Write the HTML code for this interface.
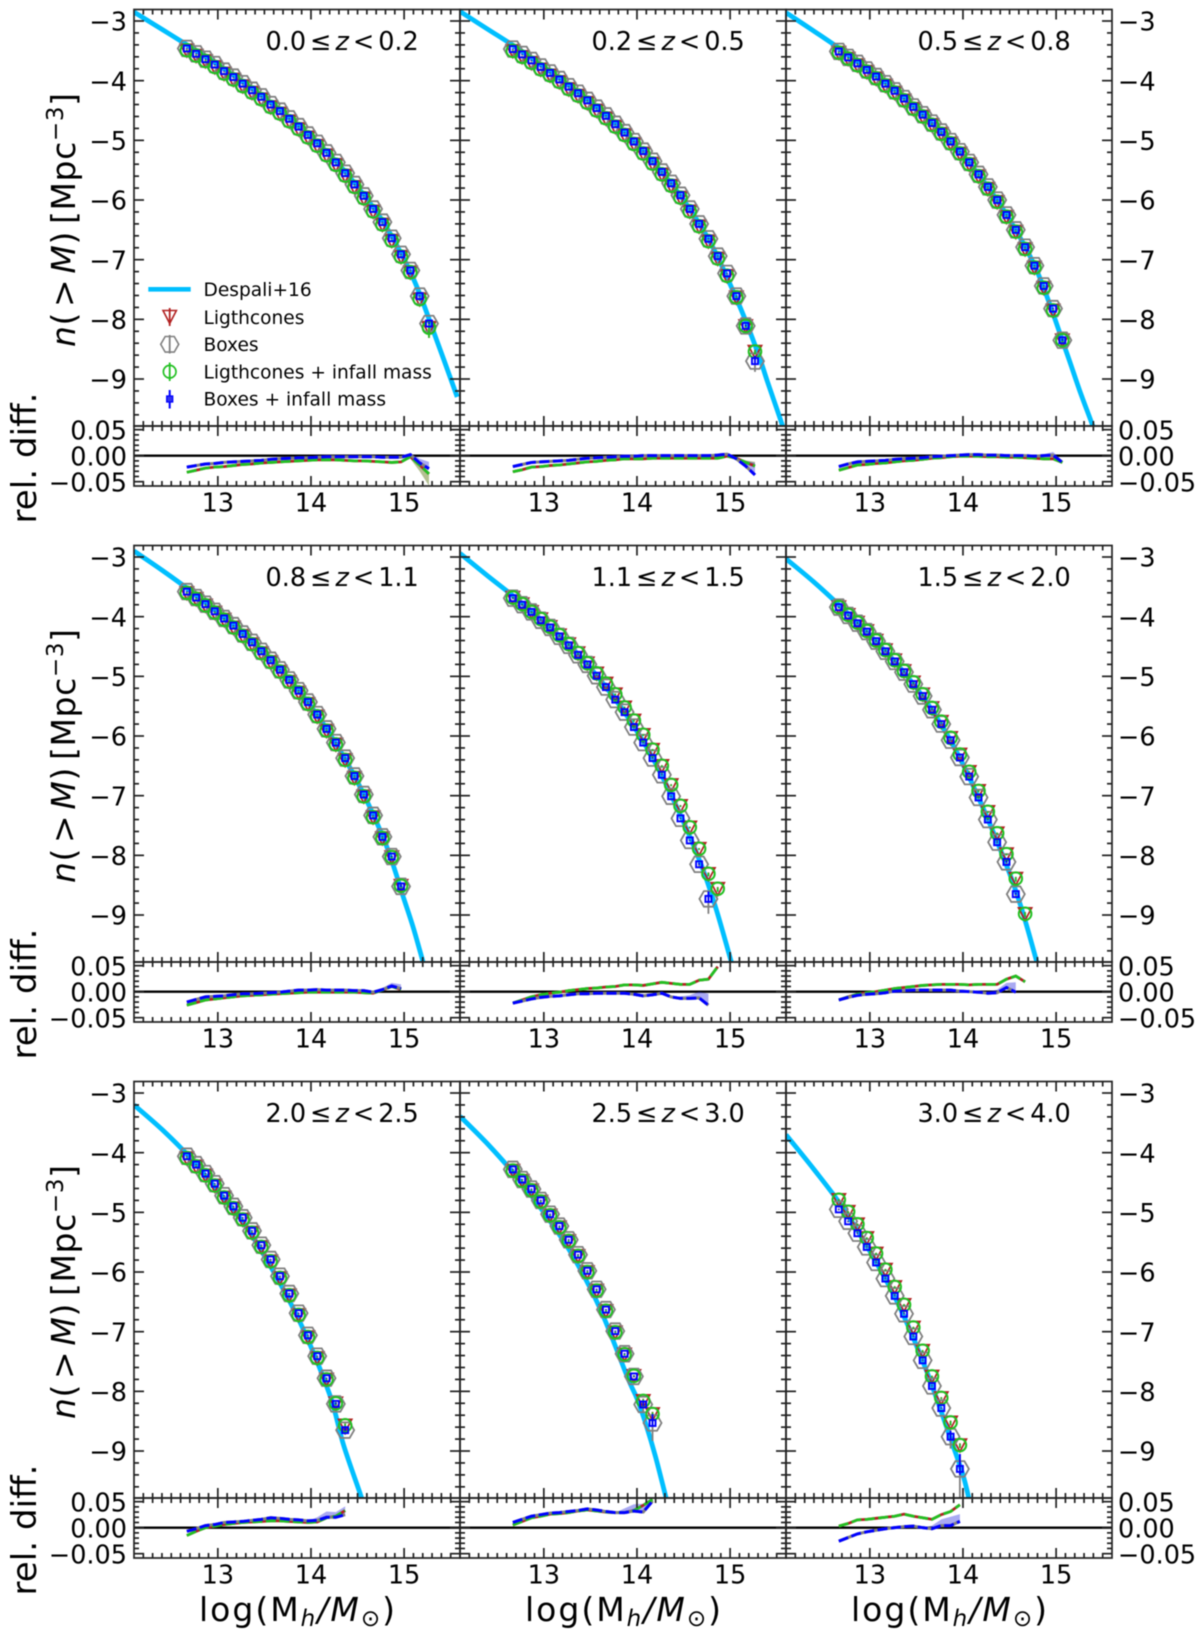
<!DOCTYPE html>
<html lang="en">
<head>
<meta charset="utf-8">
<title>Cumulative halo mass functions</title>
<style>
html,body{margin:0;padding:0;background:#fff;}
svg{display:block;font-family:"DejaVu Sans","Liberation Sans",sans-serif;fill:#000;filter:blur(0.4px);}
</style>
</head>
<body>
<svg id="figure" xmlns="http://www.w3.org/2000/svg" width="1200" height="1635" viewBox="0 0 1200 1635">
<rect x="0" y="0" width="1200" height="1635" fill="#ffffff"/>
<defs id="clips"></defs>
<g id="plot"></g>

<text x="265.5" y="50" font-size="25.5">0.0<tspan dx="4">≤</tspan><tspan dx="4" font-style="italic">z</tspan><tspan dx="4">&lt;</tspan><tspan dx="4">0.2</tspan></text>
<text x="591.5" y="50" font-size="25.5">0.2<tspan dx="4">≤</tspan><tspan dx="4" font-style="italic">z</tspan><tspan dx="4">&lt;</tspan><tspan dx="4">0.5</tspan></text>
<text x="917.5" y="50" font-size="25.5">0.5<tspan dx="4">≤</tspan><tspan dx="4" font-style="italic">z</tspan><tspan dx="4">&lt;</tspan><tspan dx="4">0.8</tspan></text>
<text x="265.5" y="586" font-size="25.5">0.8<tspan dx="4">≤</tspan><tspan dx="4" font-style="italic">z</tspan><tspan dx="4">&lt;</tspan><tspan dx="4">1.1</tspan></text>
<text x="591.5" y="586" font-size="25.5">1.1<tspan dx="4">≤</tspan><tspan dx="4" font-style="italic">z</tspan><tspan dx="4">&lt;</tspan><tspan dx="4">1.5</tspan></text>
<text x="917.5" y="586" font-size="25.5">1.5<tspan dx="4">≤</tspan><tspan dx="4" font-style="italic">z</tspan><tspan dx="4">&lt;</tspan><tspan dx="4">2.0</tspan></text>
<text x="265.5" y="1122" font-size="25.5">2.0<tspan dx="4">≤</tspan><tspan dx="4" font-style="italic">z</tspan><tspan dx="4">&lt;</tspan><tspan dx="4">2.5</tspan></text>
<text x="591.5" y="1122" font-size="25.5">2.5<tspan dx="4">≤</tspan><tspan dx="4" font-style="italic">z</tspan><tspan dx="4">&lt;</tspan><tspan dx="4">3.0</tspan></text>
<text x="917.5" y="1122" font-size="25.5">3.0<tspan dx="4">≤</tspan><tspan dx="4" font-style="italic">z</tspan><tspan dx="4">&lt;</tspan><tspan dx="4">4.0</tspan></text>

<text transform="translate(75,220) rotate(-90)" text-anchor="middle" font-size="33" textLength="254"><tspan font-style="italic">n</tspan>(<tspan dx="5">&gt;</tspan><tspan dx="5" font-style="italic">M</tspan>)<tspan dx="7">[Mpc</tspan><tspan dy="-12" font-size="23">−3</tspan><tspan dy="12">]</tspan></text>
<text transform="translate(75,756) rotate(-90)" text-anchor="middle" font-size="33" textLength="254"><tspan font-style="italic">n</tspan>(<tspan dx="5">&gt;</tspan><tspan dx="5" font-style="italic">M</tspan>)<tspan dx="7">[Mpc</tspan><tspan dy="-12" font-size="23">−3</tspan><tspan dy="12">]</tspan></text>
<text transform="translate(75,1292) rotate(-90)" text-anchor="middle" font-size="33" textLength="254"><tspan font-style="italic">n</tspan>(<tspan dx="5">&gt;</tspan><tspan dx="5" font-style="italic">M</tspan>)<tspan dx="7">[Mpc</tspan><tspan dy="-12" font-size="23">−3</tspan><tspan dy="12">]</tspan></text>

<text transform="translate(36,458) rotate(-90)" text-anchor="middle" font-size="34" textLength="131">rel. diff.</text>
<text transform="translate(36,994) rotate(-90)" text-anchor="middle" font-size="34" textLength="131">rel. diff.</text>
<text transform="translate(36,1530) rotate(-90)" text-anchor="middle" font-size="34" textLength="131">rel. diff.</text>

<text x="297" y="1621" text-anchor="middle" font-size="33" textLength="196">log(M<tspan dy="5" font-size="23" font-style="italic">h</tspan><tspan dy="-5" font-style="italic">/M</tspan><tspan dy="5" font-size="23">⊙</tspan><tspan dy="-5">)</tspan></text>
<text x="623" y="1621" text-anchor="middle" font-size="33" textLength="196">log(M<tspan dy="5" font-size="23" font-style="italic">h</tspan><tspan dy="-5" font-style="italic">/M</tspan><tspan dy="5" font-size="23">⊙</tspan><tspan dy="-5">)</tspan></text>
<text x="949" y="1621" text-anchor="middle" font-size="33" textLength="196">log(M<tspan dy="5" font-size="23" font-style="italic">h</tspan><tspan dy="-5" font-style="italic">/M</tspan><tspan dy="5" font-size="23">⊙</tspan><tspan dy="-5">)</tspan></text>

<g>
  <g>
    <line x1="148.3" y1="289.3" x2="190.7" y2="289.3" stroke="#00bfff" stroke-width="4.6"/>
    <text x="203.5" y="296" font-size="18.6">Despali+16</text>
  </g>
  <g>
    <line x1="169.7" y1="308" x2="169.7" y2="326" stroke="#b22222" stroke-width="1.8"/>
    <polygon points="163,310.5 176.4,310.5 169.7,323.5" fill="none" stroke="#b22222" stroke-width="1.6"/>
    <text x="203.5" y="324" font-size="18.6">Ligthcones</text>
  </g>
  <g>
    <line x1="169.7" y1="335" x2="169.7" y2="353.5" stroke="#808080" stroke-width="1.8"/>
    <polygon points="178.7,344.3 174.2,352.1 165.2,352.1 160.7,344.3 165.2,336.5 174.2,336.5" fill="none" stroke="#808080" stroke-width="1.6"/>
    <text x="203.5" y="351" font-size="18.6">Boxes</text>
  </g>
  <g>
    <line x1="169.7" y1="362.5" x2="169.7" y2="381" stroke="#22c022" stroke-width="1.8"/>
    <circle cx="169.7" cy="371.7" r="6.3" fill="none" stroke="#22c022" stroke-width="1.7"/>
    <text x="203.5" y="378.3" font-size="18.6">Ligthcones + infall mass</text>
  </g>
  <g>
    <line x1="169.7" y1="390" x2="169.7" y2="408.5" stroke="#0000ff" stroke-width="2"/>
    <rect x="166.7" y="396" width="6" height="6" fill="#3333ee" stroke="#0000ff" stroke-width="1.3"/>
    <text x="203.5" y="405.7" font-size="18.6">Boxes + infall mass</text>
  </g>
</g>

<script>
// Bin centres shared by all panels (log10 halo mass)
const massBins = [12.667,12.767,12.867,12.967,13.067,13.167,13.267,13.367,13.467,13.567,13.667,13.767,13.867,13.967,14.067,14.167,14.267,14.367,14.467,14.567,14.667,14.767,14.867,14.967,15.067,15.167,15.267];

// Tick values and labels
const xTickValues = [13,14,15];
const xTickLabels = ['13','14','15'];
const yTickValues = [-3,-4,-5,-6,-7,-8,-9];
const yTickLabels = ['−3','−4','−5','−6','−7','−8','−9'];
const ratioTickValues = [0.05,0,-0.05];
const ratioTickLabels = ['0.05','0.00','−0.05'];

// Boxes: log n(>M)
const boxP1 = [-3.46,-3.55,-3.64,-3.73,-3.84,-3.94,-4.05,-4.16,-4.27,-4.40,-4.51,-4.64,-4.77,-4.91,-5.05,-5.21,-5.37,-5.55,-5.74,-5.93,-6.15,-6.37,-6.64,-6.91,-7.18,-7.61,-8.07];
const boxP2 = [-3.47,-3.56,-3.66,-3.77,-3.87,-3.98,-4.10,-4.21,-4.33,-4.46,-4.59,-4.73,-4.87,-5.02,-5.18,-5.35,-5.53,-5.72,-5.92,-6.15,-6.40,-6.65,-6.94,-7.23,-7.61,-8.11,-8.70];
const boxP3 = [-3.51,-3.61,-3.71,-3.82,-3.93,-4.05,-4.17,-4.30,-4.44,-4.57,-4.71,-4.86,-5.02,-5.19,-5.37,-5.57,-5.78,-6.00,-6.25,-6.50,-6.79,-7.10,-7.44,-7.82,-8.35];
const boxP4 = [-3.58,-3.68,-3.79,-3.91,-4.03,-4.15,-4.29,-4.43,-4.58,-4.73,-4.89,-5.06,-5.24,-5.43,-5.64,-5.88,-6.11,-6.37,-6.67,-6.98,-7.33,-7.69,-8.02,-8.52];
const boxP5 = [-3.69,-3.80,-3.92,-4.06,-4.18,-4.33,-4.48,-4.64,-4.80,-4.99,-5.18,-5.39,-5.60,-5.85,-6.11,-6.37,-6.65,-7.01,-7.38,-7.75,-8.15,-8.73];
const boxP6 = [-3.84,-3.98,-4.11,-4.25,-4.41,-4.58,-4.75,-4.93,-5.13,-5.33,-5.56,-5.80,-6.07,-6.36,-6.68,-7.03,-7.40,-7.78,-8.11,-8.65];
const boxP7 = [-4.06,-4.20,-4.35,-4.52,-4.72,-4.90,-5.09,-5.31,-5.55,-5.79,-6.07,-6.36,-6.69,-7.06,-7.41,-7.78,-8.21,-8.65];
const boxP8 = [-4.28,-4.45,-4.61,-4.80,-5.03,-5.23,-5.46,-5.71,-5.98,-6.29,-6.63,-6.99,-7.37,-7.75,-8.22,-8.53];
const boxP9 = [-4.95,-5.15,-5.35,-5.58,-5.84,-6.11,-6.40,-6.70,-7.08,-7.48,-7.91,-8.28,-8.76,-9.30];

// Lightcones: log n(>M)
const lcP1 = [-3.49,-3.58,-3.67,-3.77,-3.88,-3.98,-4.09,-4.20,-4.31,-4.44,-4.55,-4.68,-4.81,-4.95,-5.09,-5.25,-5.41,-5.59,-5.78,-5.97,-6.19,-6.41,-6.68,-6.95,-7.21,-7.66,-8.14];
const lcP2 = [-3.50,-3.60,-3.70,-3.81,-3.91,-4.02,-4.14,-4.25,-4.37,-4.50,-4.63,-4.77,-4.91,-5.06,-5.22,-5.39,-5.57,-5.76,-5.96,-6.19,-6.44,-6.69,-6.98,-7.27,-7.63,-8.11,-8.54];
const lcP3 = [-3.53,-3.63,-3.74,-3.85,-3.96,-4.08,-4.20,-4.33,-4.47,-4.60,-4.74,-4.89,-5.05,-5.22,-5.40,-5.60,-5.81,-6.03,-6.28,-6.53,-6.82,-7.13,-7.47,-7.85,-8.35];
const lcP4 = [-3.60,-3.70,-3.81,-3.93,-4.05,-4.18,-4.32,-4.46,-4.61,-4.76,-4.92,-5.09,-5.27,-5.46,-5.67,-5.91,-6.14,-6.40,-6.70,-7.01,-7.36,-7.71,-8.03,-8.51];
const lcP5 = [-3.68,-3.79,-3.92,-4.04,-4.17,-4.31,-4.46,-4.61,-4.78,-4.95,-5.12,-5.30,-5.52,-5.74,-5.98,-6.23,-6.50,-6.82,-7.17,-7.53,-7.89,-8.31,-8.56];
const lcP6 = [-3.84,-3.97,-4.10,-4.24,-4.40,-4.56,-4.73,-4.91,-5.10,-5.30,-5.53,-5.76,-6.03,-6.31,-6.60,-6.92,-7.27,-7.63,-7.98,-8.39,-8.98];
const lcP7 = [-4.09,-4.23,-4.38,-4.55,-4.75,-4.93,-5.12,-5.34,-5.58,-5.82,-6.10,-6.39,-6.72,-7.09,-7.44,-7.80,-8.20,-8.57];
const lcP8 = [-4.30,-4.47,-4.63,-4.82,-5.05,-5.25,-5.48,-5.73,-6.00,-6.31,-6.65,-7.01,-7.38,-7.74,-8.16,-8.38];
const lcP9 = [-4.79,-4.99,-5.20,-5.43,-5.69,-5.96,-6.25,-6.55,-6.93,-7.32,-7.75,-8.11,-8.52,-8.90];

// Errors on the two highest-mass points of each panel
const boxErrP1 = [0.03,0.05];
const boxErrP2 = [0.04,0.18];
const boxErrP3 = [0.03,0.05];
const boxErrP4 = [0.03,0.06];
const boxErrP5 = [0.05,0.25];
const boxErrP6 = [0.05,0.05];
const boxErrP7 = [0.04,0.08];
const boxErrP8 = [0.13,0.30];
const boxErrP9 = [0.20,0.50];
const lcErrP1 = [0.03,0.17];
const lcErrP2 = [0.03,0.05];
const lcErrP3 = [0.03,0.05];
const lcErrP4 = [0.03,0.05];
const lcErrP5 = [0.04,0.05];
const lcErrP6 = [0.05,0.05];
const lcErrP7 = [0.04,0.06];
const lcErrP8 = [0.06,0.06];
const lcErrP9 = [0.05,0.05];

// Despali+16 model samples
const modelXP1 = [12.1,12.4,12.7,13,13.3,13.6,13.9,14.2,14.5,14.8,15.1,15.35,15.57];
const modelYP1 = [-2.85,-3.14,-3.43,-3.73,-4.06,-4.41,-4.81,-5.24,-5.78,-6.43,-7.32,-8.35,-9.30];
const modelXP2 = [12.1,12.4,12.7,13,13.3,13.6,13.9,14.2,14.5,14.8,15.1,15.3,15.4,15.56,15.6];
const modelYP2 = [-2.84,-3.14,-3.44,-3.77,-4.12,-4.49,-4.92,-5.41,-6.00,-6.75,-7.77,-8.57,-9.04,-9.77,-10.0];
const modelXP3 = [12.1,12.4,12.7,13,13.3,13.6,13.9,14.2,14.5,14.8,15.1,15.25,15.39,15.45];
const modelYP3 = [-2.86,-3.17,-3.49,-3.84,-4.20,-4.62,-5.08,-5.64,-6.33,-7.21,-8.50,-9.18,-9.77,-10.05];
const modelXP4 = [12.1,12.4,12.7,13,13.3,13.6,13.9,14.2,14.5,14.8,15.0,15.1,15.2,15.25];
const modelYP4 = [-2.90,-3.22,-3.56,-3.93,-4.33,-4.78,-5.30,-5.96,-6.77,-7.80,-8.74,-9.22,-9.77,-10.05];
const modelXP5 = [12.1,12.4,12.7,13,13.3,13.6,13.9,14.2,14.5,14.7,14.85,15.01,15.05];
const modelYP5 = [-2.94,-3.32,-3.69,-4.09,-4.52,-5.05,-5.68,-6.46,-7.44,-8.20,-8.90,-9.77,-10.0];
const modelXP6 = [12.1,12.4,12.7,13,13.3,13.6,13.9,14.2,14.5,14.65,14.79,14.83];
const modelYP6 = [-3.03,-3.42,-3.85,-4.31,-4.81,-5.41,-6.17,-7.15,-8.30,-9.00,-9.77,-10.0];
const modelXP7 = [12.1,12.4,12.7,13,13.3,13.6,13.9,14.2,14.35,14.54,14.58];
const modelYP7 = [-3.20,-3.61,-4.08,-4.64,-5.23,-6.00,-6.90,-8.05,-8.90,-9.77,-10.0];
const modelXP8 = [12.1,12.4,12.7,13,13.3,13.6,13.9,14.0,14.1,14.2,14.31,14.35];
const modelYP8 = [-3.39,-3.86,-4.39,-5.00,-5.70,-6.60,-7.77,-8.12,-8.57,-9.10,-9.77,-10.0];
const modelXP9 = [12.1,12.4,12.7,13,13.3,13.6,13.9,14.0,14.06,14.1];
const modelYP9 = [-3.70,-4.28,-4.90,-5.65,-6.52,-7.62,-8.94,-9.40,-9.77,-10.05];

// Relative differences, boxes
const boxDiffP1 = [-.022,-.019,-.016,-.015,-.013,-.012,-.011,-.010,-.009,-.007,-.006,-.005,-.004,-.004,-.003,-.002,-.002,-.002,-.002,-.002,-.002,-.003,-.003,-.003,.002,-.014,-.025];
const boxDiffP2 = [-.021,-.017,-.013,-.012,-.011,-.010,-.009,-.007,-.005,-.004,-.003,-.002,-.001,-.001,.000,.000,.000,.000,.000,.000,.000,.000,.001,.003,-.006,-.020,-.037];
const boxDiffP3 = [-.021,-.016,-.012,-.011,-.010,-.009,-.007,-.006,-.005,-.004,-.002,-.001,.000,.001,.002,.002,.001,.001,.000,.000,.000,-.001,.000,.001,-.013];
const boxDiffP4 = [-.020,-.015,-.010,-.009,-.008,-.006,-.004,-.004,-.003,-.002,-.001,.001,.003,.003,.004,.003,.003,.003,.002,.002,-.001,.004,.011,.006];
const boxDiffP5 = [-.022,-.018,-.014,-.011,-.009,-.008,-.006,-.004,-.004,-.003,-.003,-.003,-.003,-.005,-.008,-.006,-.003,-.010,-.013,-.013,-.012,-.026];
const boxDiffP6 = [-.016,-.011,-.007,-.005,-.004,-.002,.001,.002,.003,.003,.003,.003,.003,.001,.000,-.001,-.003,-.002,.008,-.001];
const boxDiffP7 = [-.007,-.002,.004,.006,.010,.011,.012,.014,.016,.019,.018,.016,.015,.013,.014,.020,.020,.025];
const boxDiffP8 = [.010,.016,.022,.025,.028,.029,.031,.033,.036,.034,.031,.029,.029,.032,.030,.051];
const boxDiffP9 = [-.026,-.019,-.012,-.008,-.005,-.002,.000,.002,.003,.000,-.002,.004,.004,.012];

// Relative differences, lightcones
const lcDiffP1 = [-.032,-.028,-.024,-.022,-.021,-.019,-.017,-.016,-.014,-.013,-.012,-.011,-.010,-.009,-.008,-.008,-.008,-.009,-.010,-.010,-.011,-.012,-.013,-.012,-.002,-.018,-.035];
const lcDiffP2 = [-.031,-.027,-.022,-.021,-.019,-.018,-.016,-.014,-.012,-.011,-.009,-.008,-.006,-.006,-.006,-.005,-.005,-.005,-.005,-.005,-.005,-.005,-.005,-.001,-.005,-.013,-.020];
const lcDiffP3 = [-.028,-.023,-.018,-.017,-.015,-.014,-.012,-.010,-.009,-.007,-.005,-.004,-.002,-.001,-.001,-.001,-.002,-.002,-.003,-.003,-.004,-.005,-.006,-.006,-.013];
const lcDiffP4 = [-.026,-.021,-.016,-.014,-.012,-.010,-.008,-.007,-.006,-.005,-.004,-.003,-.002,-.001,-.001,-.001,-.001,-.001,-.001,-.002,-.003,.003,.010,.004];
const lcDiffP5 = [-.022,-.016,-.010,-.006,-.003,-.001,.002,.004,.006,.007,.009,.010,.013,.013,.012,.015,.018,.016,.014,.014,.022,.024,.048];
const lcDiffP6 = [-.016,-.010,-.005,-.002,.000,.003,.006,.008,.010,.012,.013,.014,.014,.014,.013,.014,.014,.014,.024,.030,.019];
const lcDiffP7 = [-.015,-.007,.000,.003,.006,.008,.010,.011,.012,.013,.013,.012,.011,.010,.011,.019,.022,.033];
const lcDiffP8 = [.005,.012,.019,.022,.026,.027,.029,.032,.034,.032,.030,.029,.029,.033,.043,.054];
const lcDiffP9 = [.003,.008,.015,.016,.018,.020,.022,.026,.022,.019,.016,.025,.031,.044];

// Band extents relative to the line, last four points
const boxBandP1 = [.001,.003,.008,.013];
const boxBandP2 = [.002,.004,.010,.023];
const boxBandP3 = [.002,.003,.006,.004];
const boxBandP4 = [.002,.003,.006,.008];
const boxBandP5 = [.004,.006,.012,.022];
const boxBandP6 = [.003,.006,.009,.019];
const boxBandP7 = [.006,.011,.010,.016];
const boxBandP8 = [.008,.013,.016,.008];
const boxBandP9 = [.006,.012,.017,.014];
const lcBandP1 = [-.001,-.004,-.012,-.023];
const lcBandP2 = [.000,.002,.004,.008];

const boxSeries = [boxP1,boxP2,boxP3,boxP4,boxP5,boxP6,boxP7,boxP8,boxP9];
const lcSeries = [lcP1,lcP2,lcP3,lcP4,lcP5,lcP6,lcP7,lcP8,lcP9];
const boxErrors = [boxErrP1,boxErrP2,boxErrP3,boxErrP4,boxErrP5,boxErrP6,boxErrP7,boxErrP8,boxErrP9];
const lcErrors = [lcErrP1,lcErrP2,lcErrP3,lcErrP4,lcErrP5,lcErrP6,lcErrP7,lcErrP8,lcErrP9];
const modelXs = [modelXP1,modelXP2,modelXP3,modelXP4,modelXP5,modelXP6,modelXP7,modelXP8,modelXP9];
const modelYs = [modelYP1,modelYP2,modelYP3,modelYP4,modelYP5,modelYP6,modelYP7,modelYP8,modelYP9];
const boxDiffs = [boxDiffP1,boxDiffP2,boxDiffP3,boxDiffP4,boxDiffP5,boxDiffP6,boxDiffP7,boxDiffP8,boxDiffP9];
const lcDiffs = [lcDiffP1,lcDiffP2,lcDiffP3,lcDiffP4,lcDiffP5,lcDiffP6,lcDiffP7,lcDiffP8,lcDiffP9];
const boxBands = [boxBandP1,boxBandP2,boxBandP3,boxBandP4,boxBandP5,boxBandP6,boxBandP7,boxBandP8,boxBandP9];
const lcBands = [lcBandP1,lcBandP2];

const NS = 'http://www.w3.org/2000/svg';
const plot = document.getElementById('plot');
const clips = document.getElementById('clips');
const COL = {model:'#00bfff', red:'#b22222', gray:'#808080', green:'#22c022', blue:'#0000ff', axis:'#222222'};

function mk(tag, attrs, parent){
  const e = document.createElementNS(NS, tag);
  for (const k in attrs) e.setAttribute(k, attrs[k]);
  parent.appendChild(e);
  return e;
}
function smoothPath(pts){
  let d = 'M' + pts[0][0].toFixed(2) + ' ' + pts[0][1].toFixed(2);
  for (let i = 0; i < pts.length - 1; i++){
    const a = pts[Math.max(i-1,0)], b = pts[i], c = pts[i+1], e = pts[Math.min(i+2,pts.length-1)];
    d += 'C' + (b[0]+(c[0]-a[0])/6).toFixed(2) + ' ' + (b[1]+(c[1]-a[1])/6).toFixed(2) + ' ' +
         (c[0]-(e[0]-b[0])/6).toFixed(2) + ' ' + (c[1]-(e[1]-b[1])/6).toFixed(2) + ' ' +
         c[0].toFixed(2) + ' ' + c[1].toFixed(2);
  }
  return d;
}
function linePath(pts){
  return pts.map((q,i)=>(i?'L':'M')+q[0].toFixed(2)+' '+q[1].toFixed(2)).join('');
}

const PW = 326, PX0 = 134, RY0 = 9.5, RDY = 536, MAIN_H = 416.5, RATIO_B = 476.5, XS = 326/3.5, YS = 59.67;

for (let p = 0; p < 9; p++){
  const row = Math.floor(p/3), col = p%3;
  const L = PX0 + PW*col, T = RY0 + RDY*row, R = L + PW, MB = T + MAIN_H, B = T + RATIO_B;
  const sx = x => L + (x-12.1)*XS;
  const sy = v => T + 11.5 + (-3-v)*YS;
  const sr = r => T + 446.17 - r*520;

  const panel = mk('g', {}, plot);
  
  

  const clipMain = mk('clipPath', {id:'cm'+p}, clips);
  mk('rect', {x:L, y:T, width:PW, height:MAIN_H}, clipMain);
  const clipRatio = mk('clipPath', {id:'cr'+p}, clips);
  mk('rect', {x:L, y:MB, width:PW, height:B-MB}, clipRatio);

  // model curve
  const main = mk('g', {'clip-path':'url(#cm'+p+')'}, panel);
  const modelPts = modelXs[p].map((x,i)=>[sx(x), sy(modelYs[p][i])]);
  const curve = mk('path', {d:smoothPath(modelPts), fill:'none', stroke:COL.model, 'stroke-width':4.8}, main);
  
  

  const box = boxSeries[p], lc = lcSeries[p];
  const errAt = (errs, n, i) => i === n-1 ? errs[1] : (i === n-2 ? errs[0] : 0.02);

  // lightcones (red triangles)
  lc.forEach((v,i)=>{
    const cx = sx(massBins[i]), cy = sy(v), err = errAt(lcErrors[p], lc.length, i);
    const bar = mk('line', {x1:cx, x2:cx, y1:sy(v+err*.6), y2:sy(v-err), stroke:COL.red, 'stroke-width':1.6}, main);
    
    
    const tri = mk('polygon', {points:[[cx-6.6,cy-6],[cx+6.6,cy-6],[cx,cy+6.6]].map(q=>q.join(',')).join(' '), fill:'none', stroke:COL.red, 'stroke-width':1.7}, main);
    
    
  });
  // boxes (gray hexagons)
  box.forEach((v,i)=>{
    const cx = sx(massBins[i]), cy = sy(v), err = errAt(boxErrors[p], box.length, i);
    const bar = mk('line', {x1:cx, x2:cx, y1:sy(v+err*.5), y2:sy(v-err), stroke:COL.gray, 'stroke-width':1.8}, main);
    
    
    const pts = [];
    for (let a = 0; a < 6; a++) pts.push((cx+9*Math.cos(a*Math.PI/3)).toFixed(2)+','+(cy+9*Math.sin(a*Math.PI/3)).toFixed(2));
    const hex = mk('polygon', {points:pts.join(' '), fill:'none', stroke:COL.gray, 'stroke-width':1.8}, main);
    
    
  });
  // lightcones + infall (green circles)
  lc.forEach((v,i)=>{
    const cx = sx(massBins[i]), cy = sy(v), err = errAt(lcErrors[p], lc.length, i);
    const bar = mk('line', {x1:cx, x2:cx, y1:sy(v+err*.5), y2:sy(v-err), stroke:COL.green, 'stroke-width':1.8}, main);
    
    
    const dot = mk('circle', {cx:cx, cy:cy, r:6.3, fill:'none', stroke:COL.green, 'stroke-width':2}, main);
    
    
  });
  // boxes + infall (blue squares)
  box.forEach((v,i)=>{
    const cx = sx(massBins[i]), cy = sy(v), err = errAt(boxErrors[p], box.length, i);
    const bar = mk('line', {x1:cx, x2:cx, y1:sy(v+err*.5), y2:sy(v-err*.2), stroke:COL.blue, 'stroke-width':1.8}, main);
    
    
    const sq = mk('rect', {x:cx-3, y:cy-3, width:6, height:6, fill:'none', stroke:COL.blue, 'stroke-width':1.9}, main);
    
    
  });

  // ratio panel
  const ratio = mk('g', {'clip-path':'url(#cr'+p+')'}, panel);
  const zero = mk('line', {x1:L, x2:R, y1:sr(0), y2:sr(0), stroke:'#000', 'stroke-width':2.4}, ratio);
  
  

  const boxD = boxDiffs[p], lcD = lcDiffs[p];
  function bandPath(diff, ext){
    const n = diff.length, s = n - ext.length - 1, top = [], bot = [];
    for (let i = s; i < n; i++){
      const off = i === s ? 0 : ext[i-s-1];
      top.push([sx(massBins[i]), sr(diff[i])]);
      bot.unshift([sx(massBins[i]), sr(diff[i]+off)]);
    }
    return linePath(top.concat(bot)) + 'Z';
  }
  if (lcBands[p]){
    const b1 = mk('path', {d:bandPath(lcD, lcBands[p]), fill:'rgba(105,130,40,0.5)'}, ratio);
    
    
  }
  const b2 = mk('path', {d:bandPath(boxD, boxBands[p]), fill:'rgba(30,30,220,0.38)'}, ratio);
  
  

  const lcLine = linePath(lcD.map((r,i)=>[sx(massBins[i]), sr(r)]));
  const boxLine = linePath(boxD.map((r,i)=>[sx(massBins[i]), sr(r)]));
  const l1 = mk('path', {d:lcLine, fill:'none', stroke:COL.red, 'stroke-width':2.8}, ratio);
  
  
  const l2 = mk('path', {d:boxLine, fill:'none', stroke:COL.gray, 'stroke-width':3}, ratio);
  
  
  const l3 = mk('path', {d:lcLine, fill:'none', stroke:COL.green, 'stroke-width':2.8, 'stroke-dasharray':'10 3.5'}, ratio);
  
  
  const l4 = mk('path', {d:boxLine, fill:'none', stroke:COL.blue, 'stroke-width':3, 'stroke-dasharray':'10 3.5'}, ratio);
  
  

  // ticks and frames
  const axes = mk('g', {stroke:COL.axis, 'stroke-width':1.7, fill:'none'}, panel);
  
  
  const tick = (x1,y1,x2,y2) => mk('line', {x1:x1, y1:y1, x2:x2, y2:y2}, axes);

  for (let k = 1; k < 35; k++){
    const m = 12.1 + k*0.1, x = sx(m);
    const major = Math.abs(m - Math.round(m)) < 0.01;
    const len = major ? 10 : 5;
    tick(x, T, x, T+len);
    tick(x, MB, x, MB-len);
    tick(x, MB, x, MB+len);
    tick(x, B, x, B-len);
  }
  for (let k = 0; k <= 34; k++){
    const v = -2.8 - k*0.2, y = sy(v);
    if (y < T || y > MB) continue;
    const major = Math.abs(v - Math.round(v)) < 0.01;
    const len = major ? 10 : 5;
    tick(L, y, L+len, y);
    tick(R, y, R-len, y);
  }
  for (let k = -5; k <= 5; k++){
    const y = sr(k*0.01);
    const major = k === 5 || k === -5 || k === 0;
    const len = major ? 10 : 5;
    tick(L, y, L+len, y);
    tick(R, y, R-len, y);
  }
  const fm = mk('rect', {x:L, y:T, width:PW, height:MAIN_H}, axes);
  
  
  const fr = mk('rect', {x:L, y:MB, width:PW, height:B-MB}, axes);
  
  

  // tick labels
  xTickValues.forEach((v,i)=>{
    const t = mk('text', {x:sx(v), y:T+502.2, 'text-anchor':'middle', 'font-size':25.5}, panel);
    t.textContent = xTickLabels[i];
    
    
  });
  if (col === 0 || col === 2){
    const lx = col === 0 ? L-7 : R+6;
    const anchor = col === 0 ? 'end' : 'start';
    yTickValues.forEach((v,i)=>{
      const t = mk('text', {x:lx, y:sy(v)+9.7, 'text-anchor':anchor, 'font-size':25.5}, panel);
      t.textContent = yTickLabels[i];
      
      
    });
    ratioTickValues.forEach((v,i)=>{
      const t = mk('text', {x:lx, y:sr(v)+9.8, 'text-anchor':anchor, 'font-size':25.5}, panel);
      t.textContent = ratioTickLabels[i];
      
      
    });
  }
}
</script>
</svg>
</body>
</html>
